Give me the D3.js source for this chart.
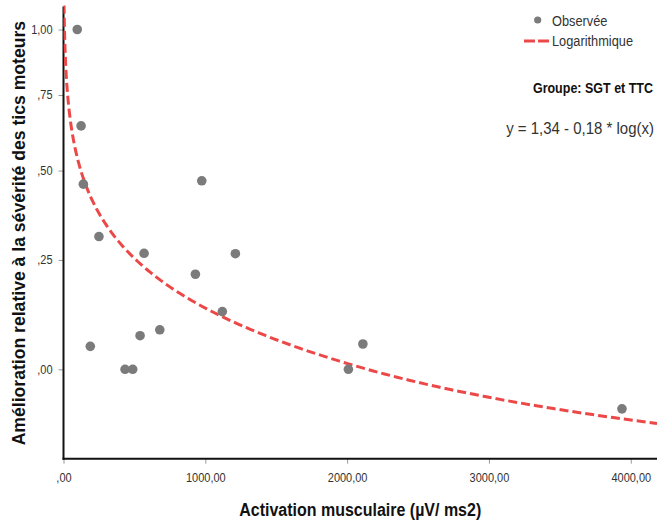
<!DOCTYPE html>
<html lang="fr">
<head>
<meta charset="utf-8">
<script src="https://d3js.org/d3.v7.min.js"></script>
<style>
  body { margin: 0; background: #ffffff; }
  svg { display: block; font-family: "Liberation Sans", Arial, sans-serif; }
  .tick-label { font-size: 11px; fill: #333; }
  .title { font-weight: bold; fill: #111; }
</style>
</head>
<body>
<script>
// observed values (activation, relative improvement)
var activation = [97, 124, 140, 250, 189, 434, 488, 540, 568, 679, 930, 975, 1120, 1212, 2009, 2111, 3938];
var amelioration = [1.00, 0.643, 0.459, 0.311, 0.048, 0.00, 0.00, 0.071, 0.267, 0.084, 0.214, 0.469, 0.125, 0.266, 0.00, 0.053, -0.084];

var xTicks = [0, 1000, 2000, 3000, 4000];
var xTickLabels = [",00", "1000,00", "2000,00", "3000,00", "4000,00"];
var yTicks = [0, 0.25, 0.5, 0.75, 1.0];
var yTickLabels = [",00", ",25", ",50", ",75", "1,00"];

var legendLabels = ["Observée", "Logarithmique"];

var W = 657, H = 527;
var plot = { left: 63.5, right: 657, top: 5.6, bottom: 458.7 };
var stretch = 1.12; // SPSS text looks a bit taller than Arial

var svg = d3.select("body").append("svg")
    .attr("width", W)
    .attr("height", H);

var x = d3.scaleLinear().domain([0, 4185]).range([plot.left, plot.right]);
// SPSS "safe log" axis
var y = d3.scaleSymlog().constant(1).domain([-0.2, 1.1]).range([plot.bottom, plot.top]);

// logarithmic fit y = b0 + b1 * ln(x), least squares on the observed points
var lx = activation.map(function(v) { return Math.log(v); });
var mx = d3.mean(lx), my = d3.mean(amelioration);
var sxy = 0, sxx = 0;
for (var i = 0; i < lx.length; i++) {
  sxy += (lx[i] - mx) * (amelioration[i] - my);
  sxx += (lx[i] - mx) * (lx[i] - mx);
}
var b1 = sxy / sxx, b0 = my - b1 * mx;

function placeText(sel, px, py) {
  return sel.attr("transform", "translate(" + px + "," + py + ") scale(1," + stretch + ")");
}

svg.append("defs").append("clipPath").attr("id", "clip")
  .append("rect")
    .attr("x", plot.left).attr("y", plot.top)
    .attr("width", plot.right - plot.left).attr("height", plot.bottom - plot.top);

// axes
var xAxis = svg.append("g")
    .attr("transform", "translate(0," + plot.bottom + ")")
    .call(d3.axisBottom(x).tickValues(xTicks).tickSize(5).tickPadding(8)
      .tickFormat(function(d, i) { return xTickLabels[i]; }));
xAxis.select(".domain").remove();
xAxis.selectAll("line").attr("stroke", "#999");
xAxis.selectAll("text").attr("class", "tick-label").attr("font-family", null).attr("font-size", null)
    .attr("transform", "scale(1," + stretch + ")");

var yAxis = svg.append("g")
    .attr("transform", "translate(" + plot.left + ",0)")
    .call(d3.axisLeft(y).tickValues(yTicks).tickSize(5).tickPadding(6)
      .tickFormat(function(d, i) { return yTickLabels[i]; }));
yAxis.select(".domain").remove();
yAxis.selectAll("line").attr("stroke", "#999");
yAxis.selectAll("text").attr("class", "tick-label").attr("font-family", null).attr("font-size", null)
    .attr("transform", "scale(1," + stretch + ")");

svg.append("line")
    .attr("x1", plot.left).attr("x2", plot.left)
    .attr("y1", plot.top + 1).attr("y2", plot.bottom + 1)
    .attr("stroke", "#111").attr("stroke-width", 2);
svg.append("line")
    .attr("x1", plot.left - 1).attr("x2", plot.right)
    .attr("y1", plot.bottom).attr("y2", plot.bottom)
    .attr("stroke", "#111").attr("stroke-width", 2);

// fitted curve
var curveX = d3.range(0, 200).map(function(k) { return Math.exp(Math.log(2) + k / 199 * (Math.log(4185) - Math.log(2))); });
svg.append("path")
    .datum(curveX)
    .attr("clip-path", "url(#clip)")
    .attr("fill", "none")
    .attr("stroke", "#ec4848")
    .attr("stroke-width", 3)
    .attr("stroke-dasharray", "9,4")
    .attr("d", d3.line()
      .x(function(d) { return x(d); })
      .y(function(d) { return y(b0 + b1 * Math.log(d)); }));

// observed points
svg.append("g").selectAll("circle")
    .data(activation)
    .enter().append("circle")
    .attr("cx", function(d) { return x(d); })
    .attr("cy", function(d, i) { return y(amelioration[i]); })
    .attr("r", 4.8)
    .attr("fill", "#7b7b7b");

// legend
var lg = svg.append("g");
lg.append("circle").attr("cx", 537.7).attr("cy", 20).attr("r", 3.6).attr("fill", "#7b7b7b");
lg.append("line").attr("x1", 524).attr("x2", 549).attr("y1", 41).attr("y2", 41)
    .attr("stroke", "#ec4848").attr("stroke-width", 3).attr("stroke-dasharray", "11,3");
lg.selectAll("text").data(legendLabels).enter().append("text")
    .attr("font-size", "12.8px")
    .attr("fill", "#333")
    .each(function(d, i) { placeText(d3.select(this), 552, 25.5 + i * 20); })
    .text(function(d) { return d; });

placeText(svg.append("text"), 653, 93)
    .attr("class", "title")
    .attr("text-anchor", "end")
    .attr("font-size", "12.5px")
    .text("Groupe: SGT et TTC");

placeText(svg.append("text"), 654, 133.5)
    .attr("text-anchor", "end")
    .attr("font-size", "15px")
    .attr("fill", "#333")
    .text("y = 1,34 - 0,18 * log(x)");

// axis titles
placeText(svg.append("text"), (plot.left + plot.right) / 2, 516)
    .attr("class", "title")
    .attr("text-anchor", "middle")
    .attr("font-size", "16px")
    .text("Activation musculaire (µV/ ms2)");

svg.append("text")
    .attr("class", "title")
    .attr("transform", "translate(24.5," + ((plot.top + plot.bottom) / 2 + 1) + ") rotate(-90)")
    .attr("text-anchor", "middle")
    .attr("font-size", "17.6px")
    .text("Amélioration relative à la sévérité des tics moteurs");
</script>
</body>
</html>
